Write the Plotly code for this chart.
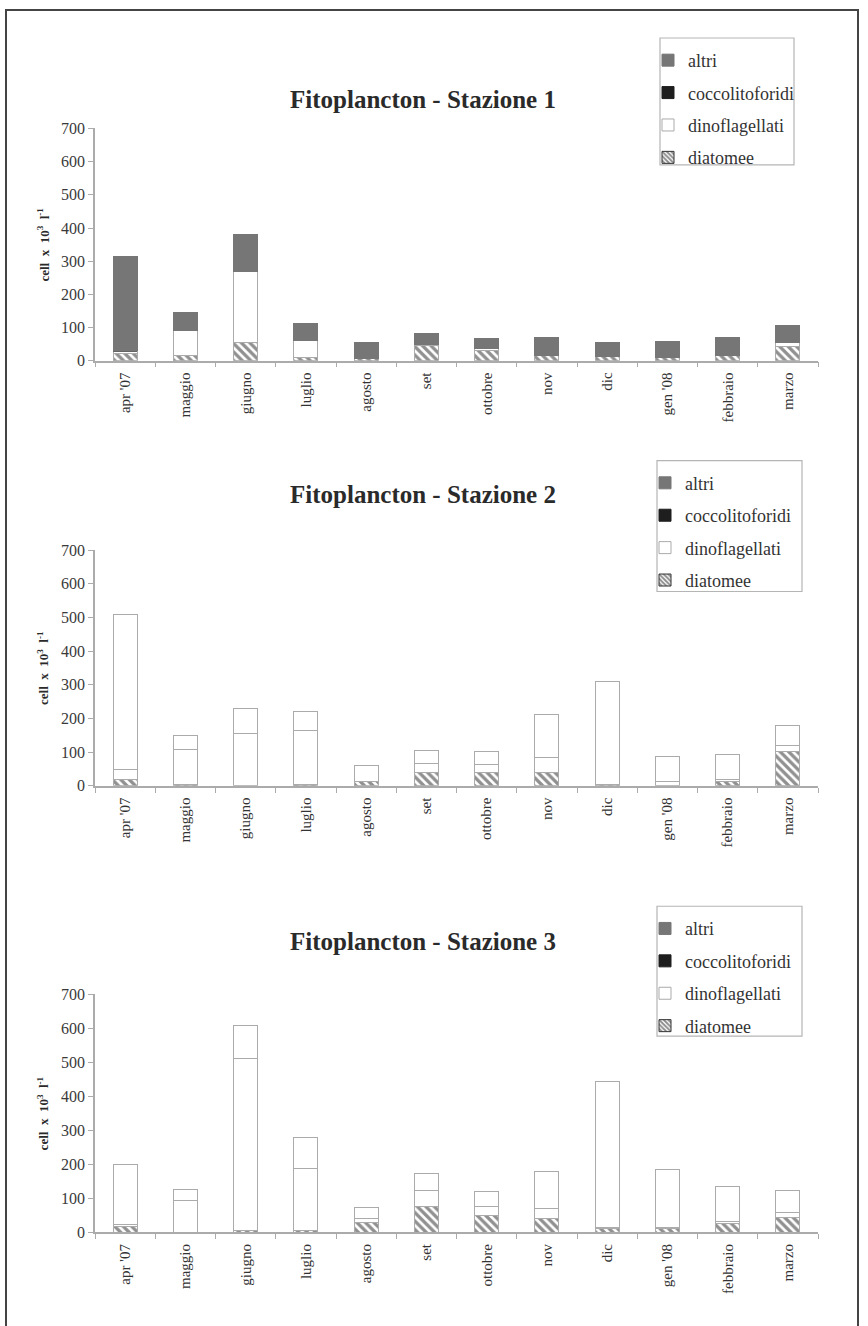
import plotly.graph_objects as go
from plotly.subplots import make_subplots

months = ["apr '07", "maggio", "giugno", "luglio", "agosto", "set",
          "ottobre", "nov", "dic", "gen '08", "febbraio", "marzo"]
titles = ["Fitoplancton - Stazione 1", "Fitoplancton - Stazione 2", "Fitoplancton - Stazione 3"]
y_ticks = [0, 100, 200, 300, 400, 500, 600, 700]

# Stazione 1 (cell x 10^3 l^-1)
s1_diatomee = [22, 17, 55, 10, 6, 45, 30, 16, 14, 9, 17, 42]
s1_dinoflagellati = [6, 73, 215, 51, 2, 3, 6, 0, 0, 0, 0, 13]
s1_coccolitoforidi = [3, 0, 0, 0, 0, 0, 0, 0, 0, 0, 0, 0]
s1_altri = [284, 55, 110, 52, 47, 35, 30, 55, 40, 49, 54, 52]

# Stazione 2
s2_diatomee = [20, 3, 0, 3, 12, 41, 40, 40, 5, 0, 12, 101]
s2_dinoflagellati = [30, 104, 156, 160, 48, 24, 24, 43, 305, 13, 7, 20]
s2_coccolitoforidi = [0, 0, 0, 0, 0, 0, 0, 0, 0, 0, 0, 0]
s2_altri = [458, 44, 75, 58, 0, 41, 37, 129, 0, 74, 74, 59]

# Stazione 3
s3_diatomee = [17, 0, 4, 4, 29, 77, 49, 41, 10, 10, 25, 44]
s3_dinoflagellati = [7, 93, 507, 184, 12, 45, 26, 28, 5, 5, 7, 15]
s3_coccolitoforidi = [0, 0, 0, 0, 0, 0, 0, 0, 0, 0, 0, 0]
s3_altri = [176, 33, 99, 92, 31, 51, 45, 111, 430, 169, 102, 65]

stations = [
    (s1_diatomee, s1_dinoflagellati, s1_coccolitoforidi, s1_altri),
    (s2_diatomee, s2_dinoflagellati, s2_coccolitoforidi, s2_altri),
    (s3_diatomee, s3_dinoflagellati, s3_coccolitoforidi, s3_altri),
]

W, H = 868, 1326
SERIF = "Liberation Serif"
GRAY = "#767676"
OUTLINE = "#ababab"


def py(y):
    # vertical pixel position -> paper fraction (compensating capture offset)
    return 1 - ((y - 8) / 0.988) / H


fig = make_subplots(rows=3, cols=1)

# pixel layout
x_left, x_right = 95, 818
zero_px = [361, 786.5, 1233.3]
top_px = [128.6, 550.6, 995.3]
title_px = [100, 495, 942]
legend_box = [(660, 794, 38, 165), (657, 802, 461, 592), (657, 802, 907, 1037)]
legend_first = [60, 483, 929]

hatch = dict(shape="\\", fgcolor="#222222", bgcolor="white", size=6, solidity=0.55)

for i, (diat, dino, cocco, altri) in enumerate(stations):
    row = i + 1
    altri_fill = GRAY if i == 0 else "white"
    altri_line = GRAY if i == 0 else OUTLINE
    fig.add_trace(go.Bar(x=months, y=diat, name="diatomee", width=0.4, showlegend=False,
                         marker=dict(color="white", pattern=hatch, line=dict(color=OUTLINE, width=1))),
                  row=row, col=1)
    fig.add_trace(go.Bar(x=months, y=dino, name="dinoflagellati", width=0.4, showlegend=False,
                         marker=dict(color="white", line=dict(color=OUTLINE, width=1))),
                  row=row, col=1)
    fig.add_trace(go.Bar(x=months, y=cocco, name="coccolitoforidi", width=0.4, showlegend=False,
                         marker=dict(color="#1e1e1e", line=dict(color="#1e1e1e", width=0.5))),
                  row=row, col=1)
    fig.add_trace(go.Bar(x=months, y=altri, name="altri", width=0.4, showlegend=False,
                         marker=dict(color=altri_fill, line=dict(color=altri_line, width=1))),
                  row=row, col=1)

    # legend entries
    lg = "legend" if i == 0 else f"legend{i + 1}"
    legend_specs = [
        ("altri", dict(color=GRAY, line=dict(color=GRAY, width=1))),
        ("coccolitoforidi", dict(color="#1e1e1e", line=dict(color="#1e1e1e", width=1))),
        ("dinoflagellati", dict(color="white", line=dict(color=OUTLINE, width=1))),
        ("diatomee", dict(color="white", pattern=dict(shape="\\", fgcolor="#1a1a1a", bgcolor="white",
                                                        size=4, solidity=0.6),
                          line=dict(color="#333", width=1))),
    ]
    for k, (nm, mk) in enumerate(legend_specs):
        fig.add_trace(go.Bar(x=[None], y=[None], name=nm, marker=mk, legend=lg,
                             legendgroup=f"{lg}_{k}", showlegend=True),
                      row=row, col=1)

    ax = "" if i == 0 else str(i + 1)
    fig.layout[f"yaxis{ax}"].domain = [py(zero_px[i]), py(top_px[i])]
    fig.layout[f"xaxis{ax}"].domain = [x_left / W, x_right / W]

    bx0, bx1, by0, by1 = legend_box[i]
    fig.layout[lg] = dict(
        x=(bx0 - 12) / W, y=py(legend_first[i] - 18), xanchor="left", yanchor="top",
        bgcolor="rgba(0,0,0,0)", borderwidth=0,
        font=dict(family=SERIF, size=18, color="#333"),
        traceorder="grouped", tracegroupgap=6, itemwidth=30,
    )
    fig.add_shape(type="rect", xref="paper", yref="paper",
                  x0=bx0 / W, x1=bx1 / W, y0=py(by1), y1=py(by0),
                  line=dict(color="#b5b5b5", width=1.2), fillcolor="rgba(0,0,0,0)", layer="below")

    fig.add_annotation(text=f"<b>{titles[i]}</b>", xref="paper", yref="paper",
                       x=423 / W, y=py(title_px[i]), xanchor="center", yanchor="middle",
                       showarrow=False, font=dict(family=SERIF, size=25, color="#2a2a2a"))
    fig.add_annotation(text="<b>cell  x  10<sup>3</sup>  l<sup>-1</sup></b>", xref="paper", yref="paper",
                       x=43 / W, y=py((zero_px[i] + top_px[i]) / 2),
                       xanchor="center", yanchor="middle", textangle=-90,
                       showarrow=False, font=dict(family=SERIF, size=13, color="#2a2a2a"))

fig.update_xaxes(type="category", categoryorder="array", categoryarray=months,
                 range=[-0.5, 11.5], showline=True, linecolor=OUTLINE, linewidth=1.5,
                 ticks="outside", tickson="boundaries", ticklen=5, tickcolor=OUTLINE,
                 tickangle=-90, tickfont=dict(family=SERIF, size=15, color="#333"),
                 showgrid=False, zeroline=False, ticklabelstandoff=4)
fig.update_yaxes(range=[0, 700], tickvals=y_ticks, showline=True, linecolor=OUTLINE, linewidth=1.5,
                 ticks="outside", ticklen=5, tickcolor=OUTLINE,
                 tickfont=dict(family=SERIF, size=16, color="#3a3a3a"),
                 showgrid=False, zeroline=False)

fig.add_shape(type="rect", xref="paper", yref="paper",
              x0=6 / W, x1=858 / W, y0=-0.05, y1=py(10),
              line=dict(color="#444", width=2), fillcolor="rgba(0,0,0,0)")

fig.update_layout(width=W, height=H, barmode="stack", bargap=0.6,
                  margin=dict(l=0, r=0, t=0, b=0),
                  plot_bgcolor="white", paper_bgcolor="white",
                  font=dict(family=SERIF))

post = (
    "document.documentElement.style.margin='0';"
    "document.body.style.margin='0';document.body.style.padding='0';"
    "document.body.style.overflow='hidden';"
)
fig.write_html("out.html", config={"displayModeBar": False}, post_script=post)
